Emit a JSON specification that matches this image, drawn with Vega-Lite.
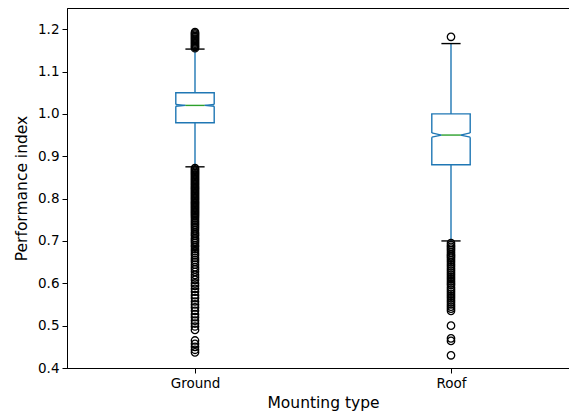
{
  "$schema": "https://vega.github.io/schema/vega-lite/v6.json",
  "width": 512,
  "height": 360,
  "autosize": {"type": "none"},
  "padding": {"left": 67, "top": 8, "right": 0, "bottom": 50},
  "background": "white",
  "config": {
    "font": "DejaVu Sans",
    "view": {"stroke": "black", "strokeWidth": 1},
    "axis": {
      "grid": false,
      "domainColor": "black",
      "tickColor": "black",
      "labelColor": "black",
      "titleColor": "black",
      "labelFont": "DejaVu Sans",
      "titleFont": "DejaVu Sans",
      "labelFontSize": 13.5,
      "titleFontSize": 15.5,
      "titleFontWeight": "normal",
      "tickSize": 5,
      "tickWidth": 1,
      "domainWidth": 1
    }
  },
  "datasets": {
    "stats": [
      {"group": "Ground", "pos": 1, "q1": 0.979, "q3": 1.05, "med": 1.02, "cilo": 1.018, "cihi": 1.022, "wlo": 0.875, "whi": 1.153},
      {"group": "Roof", "pos": 2, "q1": 0.88, "q3": 1.0, "med": 0.95, "cilo": 0.945, "cihi": 0.955, "wlo": 0.7, "whi": 1.166}
    ],
    "outliers": [
      {"pos": 1, "value": 1.155}, {"pos": 1, "value": 1.158}, {"pos": 1, "value": 1.16}, {"pos": 1, "value": 1.163},
      {"pos": 1, "value": 1.166}, {"pos": 1, "value": 1.169}, {"pos": 1, "value": 1.172}, {"pos": 1, "value": 1.175},
      {"pos": 1, "value": 1.178}, {"pos": 1, "value": 1.181}, {"pos": 1, "value": 1.184}, {"pos": 1, "value": 1.187},
      {"pos": 1, "value": 1.19}, {"pos": 1, "value": 1.193},
      {"pos": 1, "value": 0.872}, {"pos": 1, "value": 0.869}, {"pos": 1, "value": 0.866}, {"pos": 1, "value": 0.863},
      {"pos": 1, "value": 0.86}, {"pos": 1, "value": 0.857}, {"pos": 1, "value": 0.854}, {"pos": 1, "value": 0.851},
      {"pos": 1, "value": 0.848}, {"pos": 1, "value": 0.845}, {"pos": 1, "value": 0.842}, {"pos": 1, "value": 0.839},
      {"pos": 1, "value": 0.836}, {"pos": 1, "value": 0.833}, {"pos": 1, "value": 0.83}, {"pos": 1, "value": 0.827},
      {"pos": 1, "value": 0.824}, {"pos": 1, "value": 0.821}, {"pos": 1, "value": 0.818}, {"pos": 1, "value": 0.815},
      {"pos": 1, "value": 0.812}, {"pos": 1, "value": 0.809}, {"pos": 1, "value": 0.806}, {"pos": 1, "value": 0.803},
      {"pos": 1, "value": 0.8}, {"pos": 1, "value": 0.797}, {"pos": 1, "value": 0.794}, {"pos": 1, "value": 0.791},
      {"pos": 1, "value": 0.788}, {"pos": 1, "value": 0.785}, {"pos": 1, "value": 0.782}, {"pos": 1, "value": 0.779},
      {"pos": 1, "value": 0.776}, {"pos": 1, "value": 0.773}, {"pos": 1, "value": 0.77}, {"pos": 1, "value": 0.767},
      {"pos": 1, "value": 0.764}, {"pos": 1, "value": 0.761}, {"pos": 1, "value": 0.758}, {"pos": 1, "value": 0.754},
      {"pos": 1, "value": 0.75}, {"pos": 1, "value": 0.746}, {"pos": 1, "value": 0.742}, {"pos": 1, "value": 0.738},
      {"pos": 1, "value": 0.734}, {"pos": 1, "value": 0.73}, {"pos": 1, "value": 0.725}, {"pos": 1, "value": 0.72},
      {"pos": 1, "value": 0.716}, {"pos": 1, "value": 0.712}, {"pos": 1, "value": 0.707}, {"pos": 1, "value": 0.703},
      {"pos": 1, "value": 0.699}, {"pos": 1, "value": 0.695}, {"pos": 1, "value": 0.69}, {"pos": 1, "value": 0.686},
      {"pos": 1, "value": 0.681}, {"pos": 1, "value": 0.676}, {"pos": 1, "value": 0.671}, {"pos": 1, "value": 0.666},
      {"pos": 1, "value": 0.66}, {"pos": 1, "value": 0.655}, {"pos": 1, "value": 0.65}, {"pos": 1, "value": 0.644},
      {"pos": 1, "value": 0.638}, {"pos": 1, "value": 0.633}, {"pos": 1, "value": 0.627}, {"pos": 1, "value": 0.62},
      {"pos": 1, "value": 0.614}, {"pos": 1, "value": 0.608}, {"pos": 1, "value": 0.6}, {"pos": 1, "value": 0.594},
      {"pos": 1, "value": 0.587}, {"pos": 1, "value": 0.58}, {"pos": 1, "value": 0.572}, {"pos": 1, "value": 0.565},
      {"pos": 1, "value": 0.557}, {"pos": 1, "value": 0.55}, {"pos": 1, "value": 0.543}, {"pos": 1, "value": 0.535},
      {"pos": 1, "value": 0.527}, {"pos": 1, "value": 0.52}, {"pos": 1, "value": 0.512}, {"pos": 1, "value": 0.505},
      {"pos": 1, "value": 0.498}, {"pos": 1, "value": 0.49}, {"pos": 1, "value": 0.465}, {"pos": 1, "value": 0.457},
      {"pos": 1, "value": 0.45}, {"pos": 1, "value": 0.443}, {"pos": 1, "value": 0.437},
      {"pos": 2, "value": 1.182},
      {"pos": 2, "value": 0.695}, {"pos": 2, "value": 0.69}, {"pos": 2, "value": 0.686}, {"pos": 2, "value": 0.682},
      {"pos": 2, "value": 0.678}, {"pos": 2, "value": 0.673}, {"pos": 2, "value": 0.668}, {"pos": 2, "value": 0.664},
      {"pos": 2, "value": 0.66}, {"pos": 2, "value": 0.655}, {"pos": 2, "value": 0.65}, {"pos": 2, "value": 0.645},
      {"pos": 2, "value": 0.64}, {"pos": 2, "value": 0.635}, {"pos": 2, "value": 0.63}, {"pos": 2, "value": 0.625},
      {"pos": 2, "value": 0.62}, {"pos": 2, "value": 0.615}, {"pos": 2, "value": 0.61}, {"pos": 2, "value": 0.605},
      {"pos": 2, "value": 0.6}, {"pos": 2, "value": 0.596}, {"pos": 2, "value": 0.59}, {"pos": 2, "value": 0.585},
      {"pos": 2, "value": 0.58}, {"pos": 2, "value": 0.575}, {"pos": 2, "value": 0.57}, {"pos": 2, "value": 0.565},
      {"pos": 2, "value": 0.56}, {"pos": 2, "value": 0.555}, {"pos": 2, "value": 0.55}, {"pos": 2, "value": 0.545},
      {"pos": 2, "value": 0.54}, {"pos": 2, "value": 0.535}, {"pos": 2, "value": 0.5}, {"pos": 2, "value": 0.47},
      {"pos": 2, "value": 0.464}, {"pos": 2, "value": 0.43}
    ]
  },
  "encoding": {
    "x": {
      "type": "quantitative",
      "scale": {"domain": [0.5, 2.5], "nice": false, "zero": false},
      "axis": {
        "values": [1, 2],
        "labelExpr": "datum.value == 1 ? 'Ground' : 'Roof'",
        "title": "Mounting type",
        "labelPadding": 3,
        "titlePadding": 6
      }
    },
    "y": {
      "type": "quantitative",
      "scale": {"domain": [0.4, 1.25], "nice": false, "zero": false},
      "axis": {
        "values": [0.4, 0.5, 0.6, 0.7, 0.8, 0.9, 1.0, 1.1, 1.2],
        "format": ".1f",
        "title": "Performance index",
        "labelPadding": 3,
        "titlePadding": 8
      }
    }
  },
  "layer": [
    {
      "data": {"name": "stats"},
      "transform": [
        {"calculate": "datum.pos - 0.075", "as": "bl"},
        {"calculate": "datum.pos + 0.075", "as": "br"},
        {"calculate": "datum.pos - 0.0375", "as": "nl"},
        {"calculate": "datum.pos + 0.0375", "as": "nr"}
      ],
      "layer": [
        {"mark": {"type": "rule", "color": "#1f77b4", "strokeWidth": 1.4},
         "encoding": {"x": {"field": "pos"}, "y": {"field": "wlo"}, "y2": {"field": "q1"}}},
        {"mark": {"type": "rule", "color": "#1f77b4", "strokeWidth": 1.4},
         "encoding": {"x": {"field": "pos"}, "y": {"field": "q3"}, "y2": {"field": "whi"}}},
        {"mark": {"type": "rule", "color": "black", "strokeWidth": 1.4},
         "encoding": {"x": {"field": "nl"}, "x2": {"field": "nr"}, "y": {"field": "wlo"}}},
        {"mark": {"type": "rule", "color": "black", "strokeWidth": 1.4},
         "encoding": {"x": {"field": "nl"}, "x2": {"field": "nr"}, "y": {"field": "whi"}}},
        {"mark": {"type": "rule", "color": "#1f77b4", "strokeWidth": 1.4, "strokeCap": "square"},
         "encoding": {"x": {"field": "bl"}, "x2": {"field": "br"}, "y": {"field": "q1"}}},
        {"mark": {"type": "rule", "color": "#1f77b4", "strokeWidth": 1.4, "strokeCap": "square"},
         "encoding": {"x": {"field": "bl"}, "x2": {"field": "br"}, "y": {"field": "q3"}}},
        {"mark": {"type": "rule", "color": "#1f77b4", "strokeWidth": 1.4},
         "encoding": {"x": {"field": "bl"}, "y": {"field": "q1"}, "y2": {"field": "cilo"}}},
        {"mark": {"type": "rule", "color": "#1f77b4", "strokeWidth": 1.4},
         "encoding": {"x": {"field": "bl"}, "y": {"field": "cihi"}, "y2": {"field": "q3"}}},
        {"mark": {"type": "rule", "color": "#1f77b4", "strokeWidth": 1.4},
         "encoding": {"x": {"field": "br"}, "y": {"field": "q1"}, "y2": {"field": "cilo"}}},
        {"mark": {"type": "rule", "color": "#1f77b4", "strokeWidth": 1.4},
         "encoding": {"x": {"field": "br"}, "y": {"field": "cihi"}, "y2": {"field": "q3"}}},
        {"mark": {"type": "rule", "color": "#1f77b4", "strokeWidth": 1.4},
         "encoding": {"x": {"field": "bl"}, "y": {"field": "cilo"}, "x2": {"field": "nl"}, "y2": {"field": "med"}}},
        {"mark": {"type": "rule", "color": "#1f77b4", "strokeWidth": 1.4},
         "encoding": {"x": {"field": "bl"}, "y": {"field": "cihi"}, "x2": {"field": "nl"}, "y2": {"field": "med"}}},
        {"mark": {"type": "rule", "color": "#1f77b4", "strokeWidth": 1.4},
         "encoding": {"x": {"field": "br"}, "y": {"field": "cilo"}, "x2": {"field": "nr"}, "y2": {"field": "med"}}},
        {"mark": {"type": "rule", "color": "#1f77b4", "strokeWidth": 1.4},
         "encoding": {"x": {"field": "br"}, "y": {"field": "cihi"}, "x2": {"field": "nr"}, "y2": {"field": "med"}}},
        {"mark": {"type": "rule", "color": "#2ca02c", "strokeWidth": 1.4},
         "encoding": {"x": {"field": "nl"}, "x2": {"field": "nr"}, "y": {"field": "med"}}}
      ]
    },
    {
      "data": {"name": "outliers"},
      "mark": {"type": "point", "shape": "circle", "filled": false, "stroke": "black", "strokeWidth": 1.3, "size": 55, "opacity": 1},
      "encoding": {"x": {"field": "pos"}, "y": {"field": "value"}}
    }
  ]
}
